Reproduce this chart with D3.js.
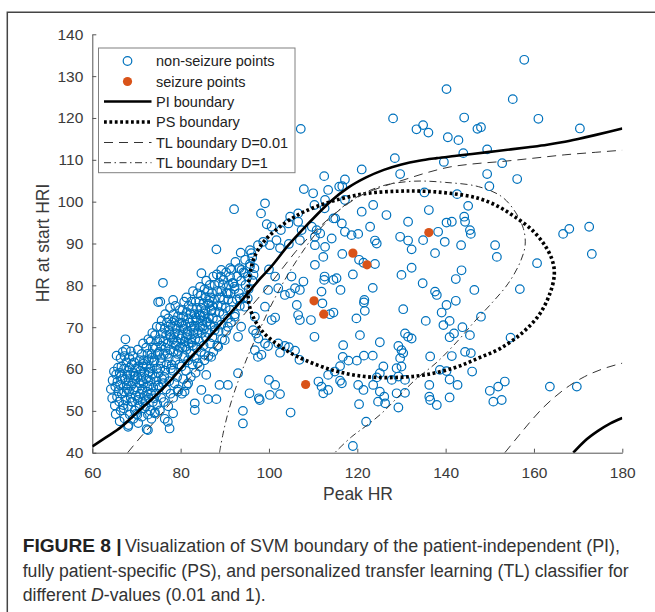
<!DOCTYPE html>
<html>
<head>
<meta charset="utf-8">
<script src="https://cdn.jsdelivr.net/npm/d3@7"></script>
<style>
  body { margin: 0; background: #fff; }
  svg { display: block; font-family: "Liberation Sans", Arial, Helvetica, sans-serif; }
</style>
</head>
<body>
<div id="chart"></div>
<script>
// figure 8 - SVM boundaries, Peak HR vs HR at start HRI

const width = 655, height = 612;
const plot = {left: 92.3, right: 622.3, top: 34.3, bottom: 452.7};

const xTicks = [60, 80, 100, 120, 140, 160, 180];
const yTicks = [40, 50, 60, 70, 80, 90, 100, 110, 120, 130, 140];

// dense cluster of non-seizure points (low peak HR)
const clusterPoints = [
  [64.5,53],[64.2,55.2],[64.6,57.3],[64.9,59.4],[65.3,49.2],[65.1,51.3],[65.6,53.4],[65.2,55.8],[65.7,57],[65.4,58.7],[65.8,60.3],[65.5,63.2],
  [66.2,47.5],[66.4,50.1],[66.1,52.2],[66.7,54.1],[66.3,56.2],[66.8,57.6],[66.2,59.1],[66.6,60.6],[66.4,62.6],[66.9,64.1],
  [67.3,48.2],[67.1,50.6],[67.6,52.5],[67.2,54.6],[67.8,56.1],[67.4,57.5],[67.9,58.6],[67.2,60.1],[67.7,61.6],[67.3,63.1],[67.6,64.6],[67.5,67.1],
  [68.2,46.6],[68.5,49.1],[68.1,51.1],[68.7,53.1],[68.3,54.6],[68.8,56],[68.2,57.1],[68.6,58.6],[68.1,59.6],[68.9,61.1],[68.4,62.6],[68.7,64.2],
  [69.3,48.1],[69.6,50.1],[69.1,52.1],[69.8,53.6],[69.4,55.1],[69.2,56.6],[69.7,57.6],[69.3,59.1],[69.9,60.1],[69.5,61.6],[69.2,63.1],
  [70.4,47.1],[70.2,49.1],[70.7,51.1],[70.3,52.6],[70.8,54.1],[70.1,55.6],[70.6,56.6],[70.2,58.1],[70.9,59.6],[70.4,60.6],[70.7,62.1],[70.3,64.6],
  [71.2,48.6],[71.7,50.6],[71.4,52.1],[71.9,53.6],[71.3,55.1],[71.6,56.6],[71.1,58.1],[71.8,59.1],[71.4,60.6],[71.7,62.1],[71.2,63.6],[71.5,66.1],
  [72.3,45.6],[72.6,49.1],[72.1,51.1],[72.8,53.1],[72.4,54.6],[72.9,56.1],[72.2,57.6],[72.7,59.1],[72.3,60.6],[72.8,62.1],[72.5,63.6],[72.2,65.1],[72.7,67.1],
  [73.4,48.1],[73.1,50.1],[73.7,52.1],[73.3,54.1],[73.8,55.6],[73.2,57.1],[73.6,58.6],[73.1,60.1],[73.9,61.6],[73.4,63.6],[73.7,65.1],[73.2,66.6],[73.6,68.6],
  [74.2,49.6],[74.7,51.6],[74.4,54.1],[74.9,56.1],[74.3,58.1],[74.6,60.1],[74.1,62.1],[74.8,63.6],[74.4,65.1],[74.7,66.6],[74.2,68.1],[74.6,70.1],
  [75.3,50.1],[75.6,53.1],[75.2,55.6],[75.8,57.6],[75.4,60.1],[75.7,62.6],[75.1,64.1],[75.6,65.6],[75.3,67.1],[75.9,68.6],[75.4,70.1],[75.7,71.6],
  [76.4,48.1],[76.2,52.1],[76.7,55.1],[76.3,58.1],[76.8,61.1],[76.2,63.6],[76.6,65.1],[76.1,66.6],[76.7,68.1],[76.4,69.6],[76.9,71.1],[76.5,73.1],
  [77.2,51.1],[77.7,54.1],[77.4,57.1],[77.8,60.1],[77.3,62.6],[77.6,64.6],[77.1,66.1],[77.8,67.6],[77.4,69.1],[77.7,70.6],[77.2,72.1],[77.6,74.6],
  [78.3,53.1],[78.6,56.6],[78.2,59.6],[78.8,62.1],[78.4,64.1],[78.9,65.6],[78.3,67.1],[78.7,68.6],[78.2,70.1],[78.6,71.6],[78.4,73.1],[78.8,75.1],
  [79.4,55.1],[79.2,58.1],[79.7,61.1],[79.3,63.6],[79.8,65.1],[79.2,66.6],[79.6,68.1],[79.1,69.6],[79.7,71.1],[79.4,72.6],[79.8,74.1],
  [80.3,54.1],[80.6,57.6],[80.2,60.6],[80.8,63.1],[80.4,65.1],[80.9,66.6],[80.3,68.1],[80.7,69.6],[80.2,71.1],[80.6,72.6],[80.4,74.1],[80.8,76.1],
  [81.4,56.1],[81.2,59.6],[81.7,62.1],[81.3,64.6],[81.8,66.1],[81.2,67.6],[81.6,69.1],[81.1,70.6],[81.7,72.1],[81.4,73.6],[81.8,75.1],[81.3,77.1],
  [82.3,58.1],[82.7,61.1],[82.2,63.6],[82.8,65.6],[82.4,67.1],[82.9,68.6],[82.3,70.1],[82.7,71.6],[82.2,73.1],[82.6,74.6],[82.4,76.1],[82.8,78.6],
  [83.4,59.1],[83.2,62.6],[83.7,65.1],[83.3,67.1],[83.8,68.6],[83.2,70.1],[83.6,71.6],[83.1,73.1],[83.7,74.6],[83.4,76.1],[83.8,78.1],
  [84.3,60.6],[84.6,64.1],[84.2,66.6],[84.8,68.6],[84.4,70.1],[84.9,71.6],[84.3,73.1],[84.7,74.6],[84.2,76.1],[84.6,77.6],[84.4,79.6],
  [85.4,62.1],[85.2,65.6],[85.7,67.6],[85.3,69.6],[85.8,71.1],[85.2,72.6],[85.6,74.1],[85.1,75.6],[85.7,77.1],[85.4,79.1],[85.8,81.1],
  [86.3,63.1],[86.7,66.1],[86.2,68.6],[86.8,70.6],[86.4,72.1],[86.9,74.1],[86.3,75.6],[86.7,77.1],[86.2,78.6],[86.6,80.1],
  [87.4,64.1],[87.2,67.6],[87.7,70.1],[87.3,72.1],[87.8,73.6],[87.2,75.1],[87.6,76.6],[87.1,78.1],[87.7,80.1],[87.4,82.1],
  [88.3,65.6],[88.6,69.1],[88.2,71.6],[88.8,73.6],[88.4,75.1],[88.9,77.1],[88.3,78.6],[88.7,80.6],[88.2,82.6],
  [89.4,67.1],[89.2,70.6],[89.7,73.1],[89.3,75.1],[89.8,76.6],[89.2,78.6],[89.6,80.1],[89.1,82.1],
  [90.3,69.1],[90.7,72.1],[90.2,74.6],[90.8,76.6],[90.4,78.1],[90.9,80.1],[90.3,83.1],
  [91.4,71.1],[91.2,74.1],[91.7,76.1],[91.3,78.1],[91.8,80.6],[91.2,84.1],
  [92.3,73.1],[92.7,76.6],[92.2,79.1],[92.8,82.1],[92.4,85.6],
  [93.4,75.1],[93.2,78.1],[93.7,81.1],[93.3,84.1],
  [94.3,77.1],[94.7,80.1],[94.2,83.1],[94.6,86.1],
  [95.4,79.1],[95.2,82.1],[95.7,85.1],
  [96.3,81.1],[96.7,84.1],[96.2,86.6]
];

// extra overlapping points in the core of the cluster
const clusterCore = [
  [65.9,54.7],[66.5,58.3],[67.0,51.4],[67.9,55.2],[68.4,60.3],[68.9,52.2],[69.6,58.4],[69.9,49.3],[70.5,53.3],
  [71.0,57.3],[71.6,61.3],[72.0,52.3],[72.5,55.8],[73.0,59.4],[73.5,62.7],[74.0,53.0],[74.5,57.1],[75.0,59.0],
  [75.5,61.4],[76.0,56.6],[76.5,59.6],[77.0,63.6],[77.5,68.3],[78.0,61.0],[78.5,66.3],[79.0,70.3],[79.5,64.3],
  [80.0,67.3],[80.5,70.3],[81.0,65.3],[81.5,68.3],[82.0,71.1],[82.5,66.3],[83.0,69.3],[83.5,72.3],[84.0,69.3],
  [84.5,72.8],[85.0,70.3],[85.5,73.3],[86.0,71.3],[86.5,76.3],[87.0,74.0]
];

// scattered non-seizure points left of 99
const nonSeizureLeft = [
  [88.1,88.6],[84.7,82.9],[76,80.6],[78.3,76.5],[74.9,76],[75.4,76.1],[93.6,87.8],[96,87.7],[97.5,89.6],
  [89.2,83.7],[91.5,83.7],[94.5,82.9],[68.1,46.2],[72.6,45.4],[77.1,47.4],[77.5,45.8],[74.1,49.4],[78.3,49.4],
  [79.4,54.6],[80.9,54.6],[81.7,56.6],[83.2,51.8],[83.2,50.2],[84.7,55],[85.8,58.6],[86.2,52.8],[88.1,52.8],
  [88.8,56.2],[90.7,56.2],[93,59],[95.6,54.2],[97.9,52.6],[94.1,50],[94.1,47],[83.9,61.4],[85.4,63.4],
  [86.9,62.9],[88.5,65.3],[90,66.9],[87.7,69.3],[90.7,70.1],[92.2,72.5],[93.7,70.1],[93,67.7],[94.5,74.9],
  [95.2,76.9],[93.4,76.9],[92.2,79.7],[90.7,78.1],[96.8,72.5],[97.5,62.9],[96.8,64.5],[98.3,63.4],[97.1,68.5],
  [96.4,69.3],[97.6,67.3],[97.7,53],[92.1,98.2],[98.2,97.2],[95.7,88.4],[98.7,90.4],[89.7,81.3],[91.2,82.1],
  [91.9,80.5],[93.8,83.7],[95.7,84.5],[96.5,82.5]
];

// non-seizure points above HR 89.6
const nonSeizureUpper = [
  [107.2,117.4],[128.1,119.9],[133.4,117.3],[134.9,118.3],[136.1,116.5],[140.2,126.9],[140.5,115.4],[128.5,110.4],
  [129.7,106.6],[121,107.7],[112.5,106.1],[107.9,103],[117.2,105.3],[115.9,103.6],[116.6,103.7],[99.1,99.6],
  [110.3,99.2],[117.2,100.4],[121,97.6],[123.6,99.2],[126.6,96.8],[131.5,95.2],[136.2,98],[135.2,102.2],
  [140.2,95],[100.6,94],[104.4,94.8],[106.6,95.2],[109.7,94],[110.8,93.2],[110.4,91.6],[115,96],[116.5,94.8],
  [117.2,92.8],[118.7,92],[120.2,92.3],[122.9,94],[124,90.7],[129.7,91.6],[131.5,90.7],[134.9,90.8],[138.3,92.8],
  [139.8,90.4],[114.2,91.2],[99.5,94.6],[102.7,93.2],[107.4,93.2],[101.7,90.8],[107,90.8],[111.6,92.4],
  [106.6,97.2],[104.8,96.4],[112.7,100.4],[110,102],[113.4,102.8],[139.6,109.5],[112.6,98.4],[114.6,96],
  [157.8,133.9],[155.2,124.5],[144.2,120.1],[161,119.8],[170.4,117.5],[142.9,114.7],[147.2,117.4],[148,117.8],
  [144,111.6],[149.4,112.5],[152.8,109.2],[149.4,106.6],[156.2,105.4],[149.9,103.7],[142.6,101.8],[145.1,99],
  [141.4,95.2],[144.2,96.4],[144.4,95.2],[145.5,93.2],[145.7,92.3],[166.6,92.3],[168,93.5],[172.5,94],
  [151.2,89.6],[143.5,89.6]
];

// non-seizure points below HR 89.6, peak HR above 99
const nonSeizureLower = [
  [100.2,89.6],[102.5,88.9],[104.5,89.9],[110.4,89.6],[112.7,89.2],[112.3,86.8],[110.4,84.9],[116.6,87.5],
  [120.4,86.1],[121.4,85.4],[124,85.1],[119,82.6],[124.4,90],[132.3,88.6],[137.6,87.7],[130,82.5],[132.3,84.2],
  [134.8,80.5],[123.5,79.4],[137.6,78.5],[138,77.7],[100,83.8],[101.4,82.1],[105.1,82.1],[107.8,80.9],[105.9,79.3],
  [99.8,78.9],[102.1,79.3],[103.6,77.7],[104.8,78.1],[107,78.9],[112.5,81.3],[114.6,81.3],[115.3,81.7],[116.2,78.9],
  [111.9,78.5],[99.1,74.9],[106.3,75.3],[112.1,75.7],[114.6,73.5],[113.8,73.1],[106.6,72.9],[107,71.7],[109.5,71.7],
  [101.4,72.3],[121.5,75.9],[121.7,73.9],[119.8,72.1],[130.4,74.3],[135.5,71.5],[139.5,70.5],[139.1,73.5],[110.3,67.7],
  [116.8,65.7],[120.6,68.1],[125.1,66.4],[130.8,68.5],[131.5,67.7],[132.3,67.3],[129.3,65.5],[130,64.5],[130.4,63.8],
  [129.7,62.6],[99.1,66.1],[102.1,66.1],[103.6,65.5],[104.5,65.2],[105.9,64.4],[102.5,63.9],[99.8,65.5],[106.9,62.2],
  [116.7,62.9],[118,62],[119.9,62],[121.5,63.2],[123.5,63.2],[116.1,60.7],[114.9,59.4],[113.4,58.6],[125.9,60.6],
  [128.9,60.2],[130,60.6],[136.5,63],[138.7,59.8],[100,57.4],[101.4,56.2],[102.5,54],[100.2,53.8],[111.2,57],
  [111.9,55.8],[112.3,54.2],[113.4,55],[116.5,56.6],[120.2,56.2],[121.4,55],[123.6,56.2],[125.1,59],[125.1,54.6],
  [126.1,53.4],[124.7,52.2],[126.3,51.8],[127.8,57.4],[129.3,58.2],[130.8,54.3],[128.9,54.2],[136.3,56.2],[136.3,53.4],
  [136.5,52.6],[138,51.4],[120.4,51.6],[129.3,50.8],[104.9,49.6],[122,47.4],[119,41.6],[121.6,76.5],[112.6,82.1],
  [100.6,71.7],[124.4,58],[116.1,57.2],[130.8,57.4],
  [151.6,86.8],[173.1,87.5],[160.7,85.3],[143.6,83.6],[142.3,81.5],[146.5,78.9],[156.8,79.1],[142.3,76.3],[148,72.5],
  [140.9,71.5],[143.8,70],[141.9,68.5],[140.9,67.6],[145.5,68.1],[154.7,67.5],[144.4,64.1],[145.7,63.8],[141.4,63.1],
  [146,59.4],[140.2,59.5],[140.9,57.5],[142.7,56.2],[140.9,53.2],[150,54.8],[151.9,55.8],[153.4,57],[150.8,52.2],
  [152.7,52.6],[163.6,55.8],[169.7,55.8],[140.2,75.3]
];

const seizurePoints = [[136.2,92.6],[119,87.7],[122.2,84.9],[110.2,76.3],[112.4,73.1],[108.3,56.3]];

// boundaries
const piBoundary = [
  [60,41.5],[63,43.6],[66.6,46.2],[70,49.5],[74.1,53.4],[78,57.6],[81.7,62.1],[85.5,66.4],[89.2,70.9],[92.3,74.6],
  [95.2,78.1],[98,81.6],[100.2,84.1],[104.4,89.6],[107.5,93.2],[110.4,96.4],[114,100.1],[118,103.4],[122,105.8],
  [126,107.6],[130,108.9],[134,109.8],[138,110.4],[142,110.9],[146,111.4],[150,111.9],[154,112.4],[158.7,113],
  [163,113.6],[166.3,114.2],[170,115],[173.8,115.9],[177,116.7],[180,117.5]
];
const piBoundaryLower = [[168.9,40],[171.5,42.8],[174.5,45.2],[177.3,47],[180,48.3]];

const psBoundary = [
  [95.3,77],[95.6,82],[96.8,87],[99.3,91],[103.5,94.8],[108,97.6],[114,100],[121.7,101.9],[129.3,102.5],[135,102.5],
  [141,102],[147.4,100.8],[152,98.8],[155.5,96.5],[159.5,93.3],[162.5,89.5],[164.2,85.8],[164.6,82.5],[163.6,78],
  [161.2,73],[157.5,68.8],[152.5,65],[147.4,62.6],[142,60.3],[135.3,58.6],[129.3,58],[121.7,58.2],[114.2,59.8],
  [106.6,62.9],[102,65.8],[98.5,69],[96.2,73]
];

const tl001Upper = [
  [68,40],[71,43.8],[74.1,47.4],[78,52.3],[81.7,57.4],[85.5,62.2],[89.2,66.9],[93,71.4],[96.8,76],[100,80],[103,84],
  [106,88],[109,91.5],[112,94.5],[115,97.2],[118,99.6],[121,101.6],[125,103.3],[130.8,105.3],[136,107],[141,108.3],
  [146,109],[152.7,109.6],[160,110.4],[167,111.2],[174,111.8],[180,112.3]
];
const tl001Lower = [[153.4,40],[156.5,44],[159.5,47.8],[162.2,50.9],[164.8,53.4],[168,56],[171.5,58.2],[175.5,60],[180,61.4]];

const tl1Boundary = [
  [88.8,40],[89.6,44.5],[90.7,49.4],[92.1,54.3],[93.7,59],[95.5,63.8],[97.5,68.5],[100.2,74.6],[103.2,80.6],[106.5,86.3],
  [110.2,91.8],[114,96.2],[118,99.8],[122,102.3],[126.5,104],[133,104.9],[140,104.6],[147.4,103.6],[152.7,101.2],
  [155.8,97.5],[157.6,93.6],[158,89.6],[156.9,85.6],[154.2,80.5],[150.4,75.7],[146.5,71.3],[142.9,66.9],[138,61.6],
  [133.1,57.4],[129.2,53.3],[125.5,49.4],[122,46.4],[118.7,43.8],[114.9,40]
];

const legendLabels = ["non-seizure points", "seizure points", "PI boundary", "PS boundary", "TL boundary D=0.01", "TL boundary D=1"];

const nonSeizure = clusterPoints.concat(clusterCore, nonSeizureLeft, nonSeizureUpper, nonSeizureLower);

const blue = "#0072BD", orange = "#D95319";
const axisColor = "#555", textColor = "#3a3a3a";
const fontFam = '"Liberation Sans", Arial, Helvetica, sans-serif';

const svg = d3.select("#chart").append("svg")
    .attr("width", width)
    .attr("height", height);

svg.append("rect").attr("width", width).attr("height", height).attr("fill", "#fff");

// frame around the figure panel
svg.append("path")
    .attr("d", "M7.3,612V12.3H655")
    .attr("fill", "none")
    .attr("stroke", "#444")
    .attr("stroke-width", 1.5);

const x = d3.scaleLinear().domain([60, 180]).range([plot.left, plot.right]);
const y = d3.scaleLinear().domain([40, 140]).range([plot.bottom, plot.top]);

svg.append("clipPath").attr("id", "clip")
  .append("rect")
    .attr("x", plot.left).attr("y", plot.top)
    .attr("width", plot.right - plot.left).attr("height", plot.bottom - plot.top);

const styleAxis = g => {
  g.select(".domain").attr("stroke", axisColor).attr("stroke-width", 1);
  g.selectAll(".tick line").attr("stroke", axisColor);
  g.selectAll("text").attr("fill", textColor).attr("font-size", 15.5).attr("font-family", fontFam);
};

svg.append("g")
    .attr("transform", `translate(0,${plot.bottom})`)
    .call(d3.axisBottom(x).tickValues(xTicks).tickSizeInner(-4).tickSizeOuter(0).tickPadding(14))
    .call(styleAxis);

svg.append("g")
    .attr("transform", `translate(${plot.left},0)`)
    .call(d3.axisLeft(y).tickValues(yTicks).tickSizeInner(-4).tickSizeOuter(0).tickPadding(9))
    .call(styleAxis);

// axis titles
svg.append("text")
    .attr("x", 358).attr("y", 500)
    .attr("text-anchor", "middle")
    .attr("font-size", 17.5)
    .attr("fill", textColor)
    .text("Peak HR");

svg.append("text")
    .attr("transform", "translate(43,243) rotate(-90)")
    .attr("text-anchor", "middle")
    .attr("dy", "0.35em")
    .attr("font-size", 17.5)
    .attr("fill", textColor)
    .text("HR at start HRI");

const plotArea = svg.append("g").attr("clip-path", "url(#clip)");

plotArea.append("g").selectAll("circle")
  .data(nonSeizure)
  .enter()
  .append("circle")
    .attr("cx", d => x(d[0]))
    .attr("cy", d => y(d[1]))
    .attr("r", 4.3)
    .attr("fill", "none")
    .attr("stroke", blue)
    .attr("stroke-width", 1.2);

plotArea.append("g").selectAll("circle")
  .data(seizurePoints)
  .enter()
  .append("circle")
    .attr("cx", d => x(d[0]))
    .attr("cy", d => y(d[1]))
    .attr("r", 4.6)
    .attr("fill", orange);

const line = d3.line().x(d => x(d[0])).y(d => y(d[1])).curve(d3.curveMonotoneX);
const loopLine = d3.line().x(d => x(d[0])).y(d => y(d[1])).curve(d3.curveCatmullRom.alpha(0.5));
const closedLine = d3.line().x(d => x(d[0])).y(d => y(d[1])).curve(d3.curveCatmullRomClosed.alpha(0.5));

const styles = {
  pi: {stroke: "#000", width: 2.6, dash: null},
  ps: {stroke: "#000", width: 3.6, dash: "2.8,2.6"},
  tl001: {stroke: "#333", width: 1, dash: "9,6"},
  tl1: {stroke: "#333", width: 1, dash: "7,3.5,1.5,3.5"}
};

function drawPath(data, gen, s) {
  plotArea.append("path")
      .attr("d", gen(data))
      .attr("fill", "none")
      .attr("stroke", s.stroke)
      .attr("stroke-width", s.width)
      .attr("stroke-dasharray", s.dash);
}

drawPath(piBoundary, line, styles.pi);
drawPath(piBoundaryLower, line, styles.pi);
drawPath(psBoundary, closedLine, styles.ps);
drawPath(tl001Upper, line, styles.tl001);
drawPath(tl001Lower, line, styles.tl001);
drawPath(tl1Boundary, loopLine, styles.tl1);

// legend
const legend = svg.append("g");
legend.append("rect")
    .attr("x", 98.5).attr("y", 48)
    .attr("width", 196.5).attr("height", 124.7)
    .attr("fill", "#fff")
    .attr("stroke", "#808080")
    .attr("stroke-width", 1);

const rowY = [61, 81.5, 101.5, 122, 142.5, 162.7];

legend.append("circle")
    .attr("cx", 127.5).attr("cy", rowY[0]).attr("r", 4.3)
    .attr("fill", "none").attr("stroke", blue).attr("stroke-width", 1.2);
legend.append("circle")
    .attr("cx", 127.5).attr("cy", rowY[1]).attr("r", 4.6)
    .attr("fill", orange);

[styles.pi, styles.ps, styles.tl001, styles.tl1].forEach((s, i) => {
  legend.append("line")
      .attr("x1", 104).attr("x2", 151.5)
      .attr("y1", rowY[i + 2]).attr("y2", rowY[i + 2])
      .attr("stroke", s.stroke)
      .attr("stroke-width", s.width)
      .attr("stroke-dasharray", s.dash);
});

legend.selectAll("text.lab")
  .data(legendLabels)
  .enter()
  .append("text")
    .attr("class", "lab")
    .attr("x", 156)
    .attr("y", (d, i) => rowY[i] + 5.2)
    .attr("font-size", 14.5)
    .attr("fill", "#222")
    .text(d => d);

// caption
const cap = svg.append("g").attr("fill", "#333");
cap.append("text")
    .attr("x", 22.7).attr("y", 552)
    .attr("font-size", 18).attr("font-weight", "bold").attr("fill", "#222")
    .attr("textLength", 99).attr("lengthAdjust", "spacingAndGlyphs")
    .text("FIGURE 8 |");
cap.append("text")
    .attr("x", 125).attr("y", 552)
    .attr("font-size", 18)
    .attr("textLength", 495).attr("lengthAdjust", "spacingAndGlyphs")
    .text("Visualization of SVM boundary of the patient-independent (PI),");
cap.append("text")
    .attr("x", 22.7).attr("y", 576.7)
    .attr("font-size", 18)
    .attr("textLength", 606).attr("lengthAdjust", "spacingAndGlyphs")
    .text("fully patient-specific (PS), and personalized transfer learning (TL) classifier for");
const line3 = cap.append("text")
    .attr("x", 22.7).attr("y", 601)
    .attr("font-size", 18)
    .attr("textLength", 243).attr("lengthAdjust", "spacingAndGlyphs");
line3.append("tspan").text("different ");
line3.append("tspan").attr("font-style", "italic").text("D");
line3.append("tspan").text("-values (0.01 and 1).");
</script>
</body>
</html>
